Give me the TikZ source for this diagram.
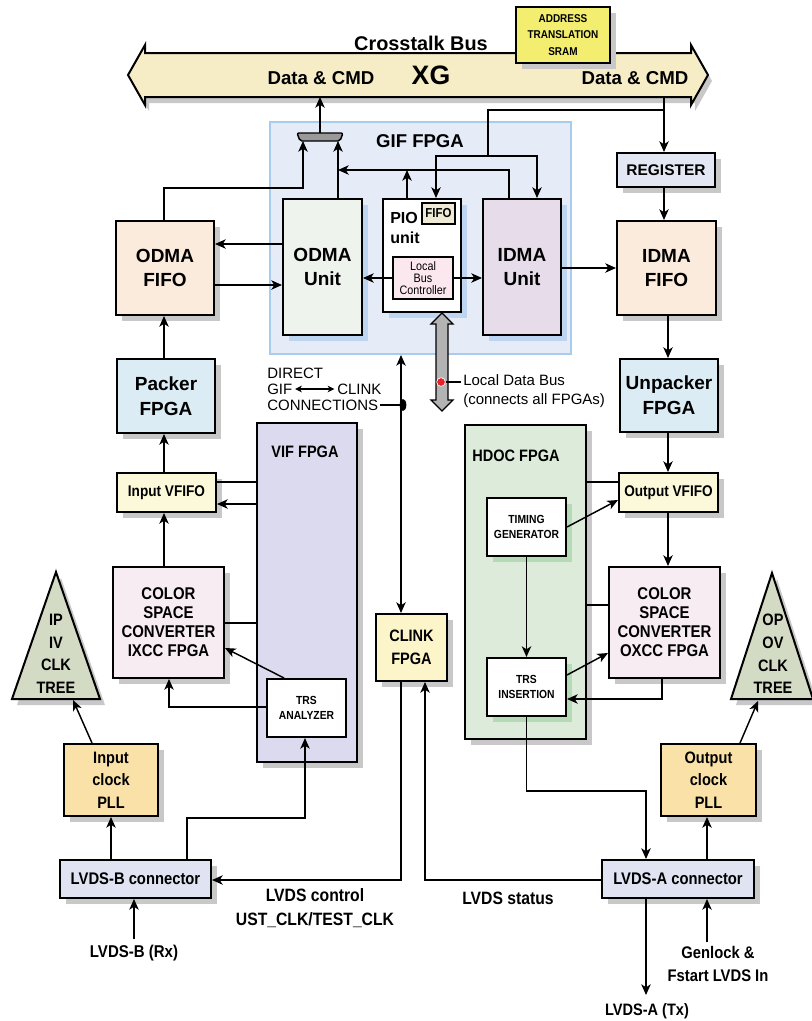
\documentclass[tikz,border=0pt]{standalone}
\usepackage{fontspec}
\setmainfont{Liberation Sans}
\newfontfamily\nar[FakeStretch=0.88]{Liberation Sans}
\usetikzlibrary{arrows.meta}
\newcommand\fsz[2]{\fontsize{#1}{#2}\selectfont}
\newcommand\bx[8][shadowgray]{%
  \fill[#1] ({#3+6},{#4+6}) rectangle ({#5+6},{#6+6});%
  \node[#2, minimum width={(#5-#3)*0.75pt}, minimum height={(#6-#4)*0.75pt}] (#7) at ({(#3+#5)/2},{(#4+#6)/2}) {#8};}
\newcommand\bxn[7]{%
  \node[#1, minimum width={(#4-#2)*0.75pt}, minimum height={(#5-#3)*0.75pt}] (#6) at ({(#2+#4)/2},{(#3+#5)/2}) {#7};}
\definecolor{busfill}{HTML}{F6EDC6}
\definecolor{sramfill}{HTML}{F3EE70}
\definecolor{shadowgray}{HTML}{C8C8C8}
\definecolor{gifbg}{HTML}{E5ECF8}
\definecolor{gifborder}{HTML}{A9CBEE}
\definecolor{blueshadow}{HTML}{BDD5F0}
\definecolor{greenshadow}{HTML}{B5DAB5}
\definecolor{fifofill}{HTML}{FBEBDD}
\definecolor{packfill}{HTML}{DCECF4}
\definecolor{regfill}{HTML}{E3E7F3}
\definecolor{vfifofill}{HTML}{FCF8DA}
\definecolor{cscfill}{HTML}{F8ECF3}
\definecolor{pllfill}{HTML}{F9E1A8}
\definecolor{treefill}{HTML}{D4DBC5}
\definecolor{clinkfill}{HTML}{FCF5C9}
\definecolor{lvdsfill}{HTML}{DFE3F2}
\definecolor{viffill}{HTML}{DCDAEE}
\definecolor{hdocfill}{HTML}{DCEBDA}
\definecolor{odmaufill}{HTML}{EEF3EE}
\definecolor{idmaufill}{HTML}{E7DCEA}
\definecolor{smallfifo}{HTML}{EEEAD6}
\definecolor{lbcfill}{HTML}{FBE8EF}
\definecolor{muxfill}{HTML}{999999}
\definecolor{ldbfill}{HTML}{B3B3B3}
\definecolor{reddot}{HTML}{E8202A}
\begin{document}
\begin{tikzpicture}[x=0.75pt,y=-0.75pt,
  box/.style={draw=black, line width=1.5pt, inner sep=0pt, align=center, text=black},
  conn/.style={line width=1.1pt, draw=black},
  >={Stealth[length=8pt,width=7pt,inset=2.2pt]},
  lab/.style={inner sep=0pt, align=center},
  big/.style={font=\bfseries\fsz{14.25}{18.5}},
  narb/.style={font=\nar\bfseries\fsz{12.4}{16.8}},
  small/.style={font=\nar\bfseries\fsz{8.8}{11.6}},
  csc/.style={font=\nar\bfseries\fsz{12.75}{14.25}},
  bot/.style={font=\nar\bfseries\fsz{13.4}{18.5}},
]
\fill[white] (0,0) rectangle (812,1021);
\useasboundingbox (0,0) rectangle (812,1021);
\foreach \v in {92,110,111,156,164,169,170,187,188,244,268,278,284,285,303,305,320,338,401,407,425,436,482,488,500,504,509,527,537,605,623,646,648,653,662,664,668,675,699,707,740,791,818,880}
  {\coordinate (x\v) at (\v,0); \coordinate (y\v) at (0,\v);}
% ---------- Crosstalk bus ----------
\fill[shadowgray, shift={(4,6)}] (128,75) -- (145,45) -- (145,53) -- (691,53) -- (691,45) -- (708,75) -- (691,105) -- (691,97) -- (145,97) -- (145,105) -- cycle;
\filldraw[fill=busfill, draw=black, line width=1.5pt, line join=miter] (128,75) -- (145,45) -- (145,53) -- (691,53) -- (691,45) -- (708,75) -- (691,105) -- (691,97) -- (145,97) -- (145,105) -- cycle;
\coordinate (busB) at (0,97);
\node[lab, font=\bfseries\fsz{14.9}{16}] (xbus) at (421,43) {Crosstalk Bus};
\node[lab, font=\bfseries\fsz{14}{16}] (dcl) at (321,78) {Data \& CMD};
\node[lab, font=\bfseries\fsz{14}{16}] (dcr) at (635,78) {Data \& CMD};
\node[lab, font=\bfseries\fsz{20}{20}] (xg) at (431,75) {XG};
\bx{box, fill=sramfill, line width=1.3pt, font=\nar\bfseries\fsz{8.5}{12.3}}{516}{7}{610}{63}{sram}{ADDRESS\\TRANSLATION\\SRAM}
% ---------- GIF FPGA ----------
\node[draw=gifborder, fill=gifbg, line width=1.5pt, inner sep=0pt, minimum width={301*0.75pt}, minimum height={232*0.75pt}] (gif) at (420.5,238) {};
\node[lab, font=\bfseries\fsz{13.9}{15}] (giftitle) at (420,141) {GIF FPGA};
\filldraw[fill=muxfill, draw=black, line width=1.1pt, rounded corners=1.5pt] (297,133) -- (343,133) -- (340,141) -- (300,141) -- cycle;
\coordinate (muxT) at (320,133);
\coordinate (muxBL) at (303,141);
\coordinate (muxBR) at (338,141);
\bx[blueshadow]{box, fill=odmaufill, big}{283}{199}{362}{335}{odmau}{ODMA\\Unit}
\bx[blueshadow]{box, fill=white}{383}{199}{461}{312}{pio}{}
\bx[blueshadow]{box, fill=idmaufill, big}{483}{199}{561}{335}{idmau}{IDMA\\Unit}
\node[lab, anchor=west, font=\bfseries\fsz{12}{14}] (piot) at (390,218) {PIO};
\node[lab, anchor=west, font=\bfseries\fsz{12}{14}] (piou) at (390,238) {unit};
\bxn{box, fill=smallfifo, line width=1.3pt, font=\nar\bfseries\fsz{9.75}{11}}{422}{203}{455}{224}{sfifo}{FIFO}
\bxn{box, fill=lbcfill, line width=1.3pt, font=\nar\fsz{9.2}{9}}{393}{257}{453}{299}{lbc}{Local\\Bus\\Controller}
% local data bus
\filldraw[fill=ldbfill, draw=black, line width=1pt, line join=miter] (442,313) -- (453,324) -- (448,324) -- (448,400) -- (453,400) -- (442,411) -- (431,400) -- (436,400) -- (436,324) -- (431,324) -- cycle;
\node[circle, fill=reddot, draw=white, line width=0.5pt, inner sep=0pt, minimum size=6.5pt] (ldbdot) at (441,382) {};
\node[lab, anchor=west, align=left, font=\fsz{11.25}{14.2}] (ldbtxt) at (463,391) {Local Data Bus\\(connects all FPGAs)};
\draw[line width=0.8pt, shorten >=1.5pt] (ldbdot) -- (ldbtxt.west |- ldbdot);
% ---------- right column ----------
\bx{box, fill=regfill, font=\bfseries\fsz{11.6}{13}}{617}{153}{715}{187}{reg}{REGISTER}
\bx{box, fill=fifofill, big}{617}{221}{716}{315}{ififo}{IDMA\\FIFO}
\bx{box, fill=packfill, big}{620}{359}{718}{432}{unpack}{Unpacker\\FPGA}
% ---------- left column ----------
\bx{box, fill=fifofill, big}{116}{221}{214}{315}{ofifo}{ODMA\\FIFO}
\bx{box, fill=packfill, big}{117}{359}{215}{433}{packer}{Packer\\FPGA}
% ---------- direct connections ----------
\node[lab, anchor=west, font=\fsz{11.25}{12}] (dir1) at (267,373) {DIRECT};
\node[lab, anchor=west, font=\fsz{11.25}{12}] (dir2) at (267,389) {GIF};
\node[lab, anchor=west, font=\fsz{11.25}{12}] (dir3) at (337,389) {CLINK};
\node[lab, anchor=west, font=\fsz{11.25}{12}] (dir4) at (267,405) {CONNECTIONS};
\draw[line width=1pt, {Stealth[length=5pt,width=5pt,inset=1.5pt]}-{Stealth[length=5pt,width=5pt,inset=1.5pt]}, shorten <=2pt, shorten >=2pt] (dir2.east) -- (dir3.west);
\draw[line width=1pt] (dir4.east) ++(2,0) -- (dir4.east -| x401);
% ---------- VIF ----------
\bx{box, fill=viffill}{257}{423}{357}{762}{vif}{}
\node[lab, font=\nar\bfseries\fsz{12.4}{14}] (viftitle) at (305,452) {VIF FPGA};
\bx{box, fill=vfifofill, font=\nar\bfseries\fsz{11.6}{13}}{117}{473}{216}{512}{ivf}{Input VFIFO}
\bx{box, fill=cscfill, csc}{113}{567}{224}{678}{ixcc}{COLOR\\SPACE\\CONVERTER\\IXCC FPGA}
\bxn{box, fill=white, small}{267}{679}{346}{737}{trsa}{TRS\\ANALYZER}
% ---------- HDOC ----------
\bx{box, fill=hdocfill}{465}{425}{586}{739}{hdoc}{}
\node[lab, font=\nar\bfseries\fsz{12.4}{14}] (hdoctitle) at (516,456) {HDOC FPGA};
\bx[greenshadow]{box, fill=white, small}{487}{498}{566}{556}{timg}{TIMING\\GENERATOR}
\bx[greenshadow]{box, fill=white, small}{487}{658}{566}{716}{trsi}{TRS\\INSERTION}
\bx{box, fill=vfifofill, font=\nar\bfseries\fsz{11.6}{13}}{619}{473}{718}{512}{ovf}{Output VFIFO}
\bx{box, fill=cscfill, csc}{609}{567}{720}{678}{oxcc}{COLOR\\SPACE\\CONVERTER\\OXCC FPGA}
% ---------- CLINK ----------
\bx{box, fill=clinkfill, font=\nar\bfseries\fsz{12.4}{17}}{376}{614}{447}{681}{clink}{CLINK\\FPGA}
% ---------- clock trees ----------
\fill[shadowgray] (61,578) -- (105,705) -- (17,705) -- cycle;
\filldraw[fill=treefill, draw=black, line width=1.5pt, line join=miter] (56,572) -- (100,699) -- (12,699) -- cycle;
\node[lab, font=\nar\bfseries\fsz{12.4}{16.9}] (itree) at (56,654) {IP\\IV\\CLK\\TREE};
\coordinate (itreeB) at (73,700);
\fill[shadowgray] (777,579) -- (818,705) -- (736,705) -- cycle;
\filldraw[fill=treefill, draw=black, line width=1.5pt, line join=miter] (772,573) -- (813,699) -- (731,699) -- cycle;
\node[lab, font=\nar\bfseries\fsz{12.4}{16.9}] (otree) at (773,654) {OP\\OV\\CLK\\TREE};
\coordinate (otreeB) at (758,701);
\bx{box, fill=pllfill, narb}{64}{744}{158}{816}{ipll}{Input\\clock\\PLL}
\bx{box, fill=pllfill, narb}{661}{744}{756}{816}{opll}{Output\\clock\\PLL}
% ---------- LVDS connectors ----------
\bx{box, fill=lvdsfill, font=\nar\bfseries\fsz{12.6}{14}}{60}{860}{211}{898}{lvdsb}{LVDS-B connector}
\bx{box, fill=lvdsfill, font=\nar\bfseries\fsz{12.6}{14}}{602}{860}{754}{898}{lvdsa}{LVDS-A connector}
\node[lab, bot] (ctl) at (315,908) {LVDS control\\UST\_CLK/TEST\_CLK};
\node[lab, bot] (stat) at (508,898) {LVDS status};
\node[lab, font=\nar\bfseries\fsz{12.8}{14}] (rxlab) at (134,953) {LVDS-B (Rx)};
\node[lab, font=\nar\bfseries\fsz{12.6}{17.2}] (genlab) at (718,964) {Genlock \&\\Fstart LVDS In};
\node[lab, font=\nar\bfseries\fsz{12.4}{14}] (txlab) at (647,1011) {LVDS-A (Tx)};
% ---------- connectors ----------
\draw[conn,->] (muxT) -- (muxT |- busB);
\draw[conn,->] (ofifo.north -| x164) |- (y188 -| x303) -- (muxBL);
\draw[conn,->] (odmau.north -| x338) -- (muxBR);
\draw[conn,->] (idmau.north -| x509) |- (y170 -| x338);
\draw[conn,->] (pio.north -| x407) -- (y170 -| x407);
\draw[conn,->] (busB -| x664) -- (reg.north -| x664);
\draw[conn] (y110 -| x664) -| (y156 -| x488);
\draw[conn,->] (y156 -| x488) -| (pio.north -| x436);
\draw[conn,->] (y156 -| x488) -| (idmau.north -| x537);
\draw[conn,->] (reg.south -| x664) -- (ififo.north -| x664);
\draw[conn,->] (ififo.south -| x668) -- (unpack.north -| x668);
\draw[conn,->] (odmau.west |- y244) -- (ofifo.east |- y244);
\draw[conn,->] (ofifo.east |- y285) -- (odmau.west |- y285);
\draw[conn,->] (lbc.west |- y278) -- (odmau.east |- y278);
\draw[conn,->] (lbc.east |- y278) -- (idmau.west |- y278);
\draw[conn,->] (idmau.east |- y268) -- (ififo.west |- y268);
\draw[conn,->] (packer.north -| x164) -- (ofifo.south -| x164);
\draw[conn,->] (ivf.north -| x164) -- (packer.south -| x164);
\draw[conn,->] (ixcc.north -| x164) -- (ivf.south -| x164);
\draw[conn] (vif.west |- y482) -- (ivf.east |- y482);
\draw[conn,->] (vif.west |- y504) -- (ivf.east |- y504);
\draw[conn] (ixcc.east |- y623) -- (vif.west |- y623);
\draw[conn,->] (trsa.north -| x284) -- (ixcc.east |- y648);
\draw[conn,->] (trsa.west |- y707) -| (ixcc.south -| x169);
\draw[conn,->] (lvdsb.north -| x111) -- (ipll.south -| x111);
\draw[conn,->] (lvdsb.north -| x187) |- (y818 -| x305) -- (trsa.south -| x305);
\draw[conn,->] (ipll.north -| x92) -- (itreeB);
\draw[conn,->, shorten <=4pt] (rxlab.north) -- (lvdsb.south -| rxlab.north);
\draw[conn,<->] (gif.south -| x401) -- (clink.north -| x401);
\fill (403,405) ellipse [x radius=2.5pt, y radius=4.5pt];
\draw[conn,->] (clink.south -| x401) |- (lvdsb.east |- y880);
\draw[conn,->] (lvdsa.west |- y880) -| (clink.south -| x425);
\draw[conn,->] (trsi.south) |- (y791 -| x646) -- (lvdsa.north -| x646);
\draw[conn,->] (lvdsa.north -| x707) -- (opll.south -| x707);
\draw[conn,->] (opll.north -| x740) -- (otreeB);
\draw[conn,->, shorten >=6pt] (lvdsa.south -| x646) -- (txlab.north -| x646);
\draw[conn,->, shorten <=3pt] (genlab.north -| x707) -- (lvdsa.south -| x707);
\draw[conn,->] (unpack.south -| x668) -- (ovf.north -| x668);
\draw[conn,->] (ovf.south -| x668) -- (oxcc.north -| x668);
\draw[conn] (hdoc.east |- y482) -- (ovf.west |- y482);
\draw[conn] (hdoc.east |- y605) -- (oxcc.west |- y605);
\draw[conn,->] (timg.east |- y527) -- (ovf.west |- y500);
\draw[conn,->] (timg.south) -- (trsi.north);
\draw[conn,->] (trsi.east |- y675) -- (oxcc.west |- y653);
\draw[conn,->] (oxcc.south -| x662) |- (trsi.east |- y699);
\end{tikzpicture}
\end{document}
